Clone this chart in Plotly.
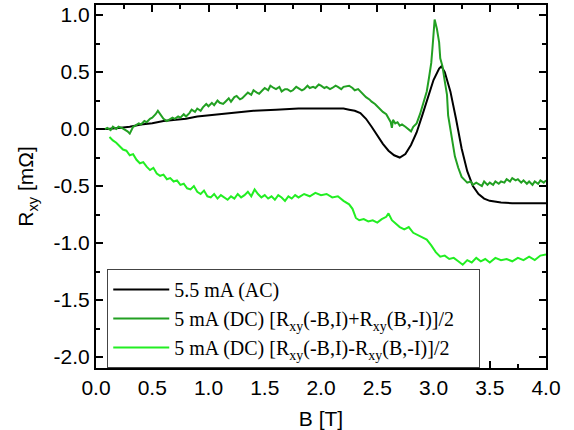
import plotly.graph_objects as go

# ---------------- data ----------------
B_ac = [0.0, 0.1, 0.2, 0.3, 0.4, 0.5, 0.6, 0.7, 0.8, 0.9, 1.0, 1.2, 1.4, 1.6, 1.8, 2.0, 2.1, 2.2,
        2.25, 2.3, 2.35, 2.4, 2.45, 2.5, 2.55, 2.6, 2.65, 2.7, 2.75, 2.8, 2.85, 2.9, 2.95, 3.0,
        3.05, 3.07, 3.1, 3.15, 3.2, 3.25, 3.3, 3.35, 3.4, 3.45, 3.5, 3.6, 3.7, 3.8, 3.9, 4.0]
R_ac = [0.0, 0.0, 0.01, 0.02, 0.04, 0.05, 0.07, 0.08, 0.09, 0.11, 0.12, 0.14, 0.16, 0.17, 0.18,
        0.18, 0.18, 0.18, 0.17, 0.16, 0.14, 0.09, 0.02, -0.06, -0.13, -0.19, -0.23, -0.25, -0.22,
        -0.14, -0.03, 0.12, 0.28, 0.43, 0.53, 0.55, 0.50, 0.33, 0.09, -0.17, -0.37, -0.50, -0.57,
        -0.61, -0.63, -0.645, -0.65, -0.65, -0.65, -0.65]

B_sum = [0.08, 0.1, 0.13, 0.15, 0.18, 0.2, 0.23, 0.25, 0.28, 0.3, 0.33, 0.35, 0.38, 0.4, 0.43,
         0.45, 0.48, 0.5, 0.53, 0.55, 0.58, 0.6, 0.63, 0.65, 0.68, 0.7, 0.73, 0.75, 0.78, 0.8,
         0.83, 0.85, 0.88, 0.9, 0.93, 0.95, 0.98, 1.0, 1.03, 1.05, 1.08, 1.1, 1.13, 1.15, 1.18,
         1.2, 1.23, 1.25, 1.28, 1.3, 1.33, 1.35, 1.38, 1.4, 1.43, 1.45, 1.48, 1.5, 1.53, 1.55,
         1.58, 1.6, 1.63, 1.65, 1.68, 1.7, 1.73, 1.75, 1.78, 1.8, 1.83, 1.85, 1.88, 1.9, 1.93,
         1.95, 1.98, 2.0, 2.03, 2.05, 2.08, 2.1, 2.13, 2.15, 2.18, 2.2, 2.23, 2.25, 2.28, 2.3,
         2.33, 2.35, 2.38, 2.4, 2.43, 2.45, 2.48, 2.5, 2.53, 2.55, 2.58, 2.6, 2.62, 2.63, 2.64,
         2.66, 2.68, 2.7, 2.72, 2.75, 2.78, 2.8, 2.82, 2.85, 2.88, 2.91, 2.94, 2.96, 2.98, 2.99,
         3.0, 3.01, 3.03, 3.05, 3.06, 3.08, 3.1, 3.12, 3.13, 3.15, 3.17, 3.19, 3.22, 3.25, 3.28,
         3.3, 3.33, 3.35, 3.38, 3.4, 3.43, 3.45, 3.48, 3.5, 3.53, 3.55, 3.58, 3.6, 3.63, 3.65,
         3.68, 3.7, 3.73, 3.75, 3.78, 3.8, 3.83, 3.85, 3.88, 3.9, 3.93, 3.95, 3.98, 4.0]
R_sum = [0.00, 0.01, -0.01, 0.02, 0.00, 0.02, 0.01, 0.00, -0.02, -0.04, 0.02, 0.03, 0.05, 0.04,
         0.07, 0.06, 0.09, 0.10, 0.13, 0.16, 0.12, 0.09, 0.07, 0.08, 0.10, 0.09, 0.11, 0.10, 0.13,
         0.11, 0.14, 0.17, 0.15, 0.18, 0.16, 0.19, 0.22, 0.20, 0.23, 0.21, 0.25, 0.23, 0.22, 0.24,
         0.27, 0.24, 0.28, 0.29, 0.26, 0.27, 0.30, 0.32, 0.30, 0.34, 0.32, 0.31, 0.34, 0.36, 0.34,
         0.38, 0.36, 0.35, 0.37, 0.33, 0.35, 0.35, 0.33, 0.34, 0.37, 0.36, 0.34, 0.35, 0.38, 0.36,
         0.37, 0.36, 0.39, 0.38, 0.36, 0.37, 0.35, 0.36, 0.38, 0.37, 0.35, 0.37, 0.38, 0.38, 0.36,
         0.34, 0.35, 0.33, 0.30, 0.28, 0.26, 0.24, 0.22, 0.20, 0.17, 0.15, 0.13, 0.10, 0.06, 0.01,
         0.08, 0.05, 0.06, 0.03, 0.04, 0.02, 0.00, -0.02, 0.02, 0.05, 0.13, 0.22, 0.33, 0.45, 0.58,
         0.70, 0.84, 0.96, 0.88, 0.76, 0.62, 0.55, 0.42, 0.30, 0.12, 0.00, -0.15, -0.24, -0.34,
         -0.42, -0.45, -0.47, -0.46, -0.49, -0.47, -0.48, -0.50, -0.46, -0.49, -0.47, -0.49, -0.46,
         -0.48, -0.46, -0.47, -0.44, -0.46, -0.43, -0.45, -0.44, -0.47, -0.45, -0.48, -0.46, -0.49,
         -0.46, -0.48, -0.45, -0.47, -0.45, -0.48, -0.46, -0.47]

B_diff = [0.12, 0.15, 0.18, 0.21, 0.24, 0.27, 0.3, 0.33, 0.36, 0.39, 0.42, 0.45, 0.48, 0.51, 0.54,
          0.57, 0.6, 0.63, 0.66, 0.69, 0.72, 0.75, 0.78, 0.81, 0.84, 0.87, 0.9, 0.93, 0.96, 0.99,
          1.02, 1.05, 1.08, 1.11, 1.14, 1.17, 1.2, 1.23, 1.26, 1.29, 1.32, 1.35, 1.38, 1.41, 1.44,
          1.47, 1.5, 1.53, 1.56, 1.59, 1.62, 1.65, 1.68, 1.71, 1.74, 1.77, 1.8, 1.85, 1.9, 1.95,
          2.0, 2.05, 2.1, 2.15, 2.2, 2.25, 2.28, 2.31, 2.34, 2.38, 2.42, 2.46, 2.5, 2.54, 2.58,
          2.6, 2.63, 2.67, 2.7, 2.74, 2.78, 2.82, 2.86, 2.9, 2.94, 2.98, 3.02, 3.06, 3.1, 3.14,
          3.18, 3.22, 3.26, 3.3, 3.34, 3.38, 3.42, 3.46, 3.5, 3.55, 3.6, 3.65, 3.7, 3.75, 3.8,
          3.85, 3.9, 3.95, 4.0]
R_diff = [-0.07, -0.10, -0.12, -0.15, -0.18, -0.19, -0.23, -0.22, -0.27, -0.30, -0.29, -0.33,
          -0.36, -0.34, -0.39, -0.41, -0.40, -0.44, -0.43, -0.46, -0.45, -0.49, -0.48, -0.52,
          -0.53, -0.50, -0.55, -0.57, -0.54, -0.59, -0.60, -0.57, -0.61, -0.58, -0.60, -0.62,
          -0.59, -0.61, -0.57, -0.60, -0.58, -0.55, -0.59, -0.53, -0.57, -0.60, -0.58, -0.61,
          -0.59, -0.62, -0.58, -0.60, -0.63, -0.59, -0.61, -0.58, -0.60, -0.57, -0.59, -0.56,
          -0.58, -0.57, -0.60, -0.59, -0.63, -0.66, -0.70, -0.78, -0.80, -0.79, -0.81, -0.80,
          -0.82, -0.79, -0.77, -0.74, -0.80, -0.83, -0.86, -0.88, -0.86, -0.91, -0.93, -0.95,
          -0.97, -1.02, -1.08, -1.12, -1.11, -1.14, -1.13, -1.16, -1.19, -1.15, -1.17, -1.13,
          -1.16, -1.14, -1.17, -1.13, -1.15, -1.14, -1.16, -1.13, -1.15, -1.12, -1.15, -1.11,
          -1.10]

x_ticks = [0.0, 0.5, 1.0, 1.5, 2.0, 2.5, 3.0, 3.5, 4.0]
x_labels = ["0.0", "0.5", "1.0", "1.5", "2.0", "2.5", "3.0", "3.5", "4.0"]
y_ticks = [1.0, 0.5, 0.0, -0.5, -1.0, -1.5, -2.0]
y_labels = ["1.0", "0.5", "0.0", "-0.5", "-1.0", "-1.5", "-2.0"]

names = ["5.5 mA (AC)",
         "5 mA (DC) [R<sub>xy</sub>(-B,I)+R<sub>xy</sub>(B,-I)]/2\u00a0\u00a0\u00a0\u00a0",
         "5 mA (DC) [R<sub>xy</sub>(-B,I)-R<sub>xy</sub>(B,-I)]/2"]
colors = ["#000000", "#22a022", "#22ee22"]

# ---------------- figure ----------------
fig = go.Figure()
for xs, ys, nm, c in [(B_ac, R_ac, names[0], colors[0]),
                      (B_sum, R_sum, names[1], colors[1]),
                      (B_diff, R_diff, names[2], colors[2])]:
    fig.add_trace(go.Scatter(x=xs, y=ys, mode="lines", name=nm,
                             line=dict(color=c, width=2)))

tick_font = dict(family="Liberation Sans, Arial", size=21, color="black")
axis_common = dict(showgrid=False, zeroline=False, showline=True, linecolor="black",
                   linewidth=2, mirror="ticks", ticks="inside", ticklen=7, tickwidth=1.5,
                   tickcolor="black", tickfont=tick_font, automargin=False)
minor = dict(ticks="inside", dtick=0.25, ticklen=4, tickwidth=1.5, tickcolor="black")

fig.update_layout(
    width=574, height=430,
    margin=dict(l=96, r=28, t=5, b=62),
    paper_bgcolor="white", plot_bgcolor="white",
    xaxis=dict(range=[0, 4], tickvals=x_ticks, ticktext=x_labels, minor=minor,
               title=dict(text="B [T]", standoff=17, font=tick_font),
               **axis_common),
    yaxis=dict(range=[-2.096, 1.088], tickvals=y_ticks, ticktext=y_labels, minor=minor,
               title=dict(text="R<sub>xy</sub> [mΩ]", standoff=14, font=tick_font),
               **axis_common),
    legend=dict(x=0.025, y=0, xanchor="left", yanchor="bottom",
                bgcolor="white", bordercolor="#444444", borderwidth=1,
                itemwidth=56,
                font=dict(family="Liberation Serif, Times New Roman", size=20, color="black"),
                tracegroupgap=0),
    showlegend=True,
)

fig.write_html("out.html")
